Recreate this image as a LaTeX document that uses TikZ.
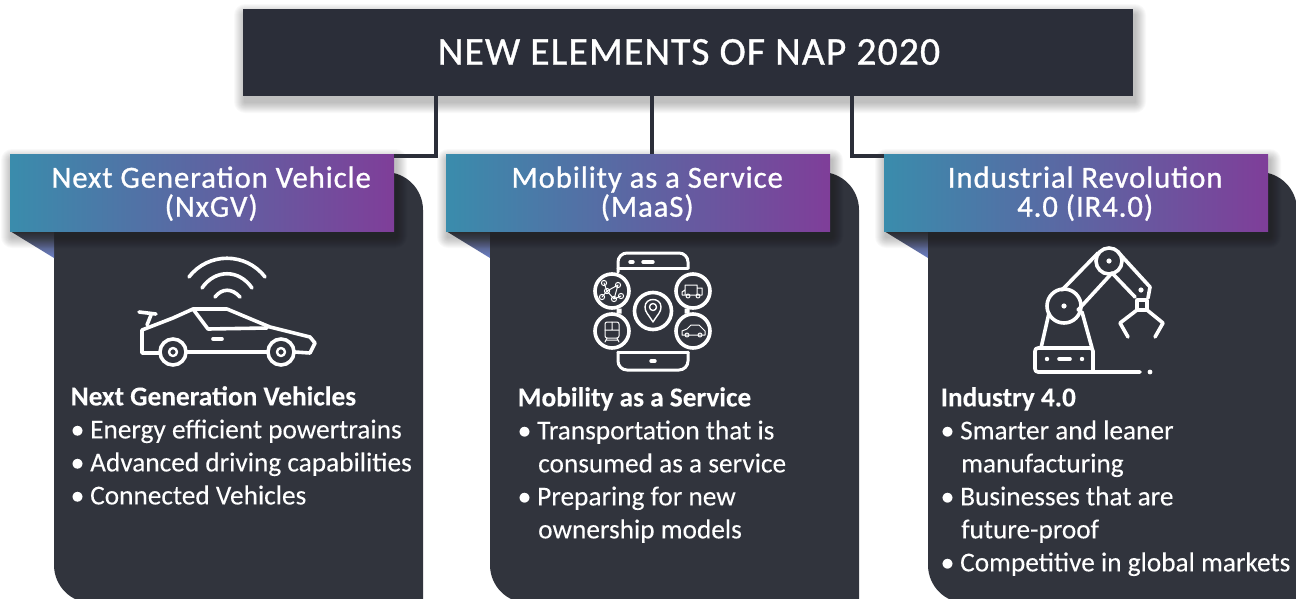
\documentclass[tikz,border=0pt]{standalone}
\usepackage{fontspec}
\setmainfont{Carlito}[FakeBold=0.15]
\newfontfamily\spaced{Carlito}[LetterSpace=3.0,FakeBold=0.9]
\usetikzlibrary{calc}
\definecolor{panel}{HTML}{31343D}
\definecolor{head}{HTML}{2B2E39}
\definecolor{teal}{HTML}{3A8CAC}
\definecolor{plum}{HTML}{7F3E99}
\definecolor{foldblue}{HTML}{6C80C8}
\newcommand{\softbox}[4]{%
  \foreach \d in {1,...,11}
    \fill[black,opacity=.022,rounded corners=\d pt]($(#1,#2)+(2-\d,6-\d)$)rectangle($(#3,#4)+(2+\d,6+\d)$);}
\newcommand{\bul}{\makebox[19.5pt][l]{\textbullet}}
\newcommand{\ind}{\hspace*{20.5pt}}
\tikzset{
  ico/.style={draw=white,line width=3.6pt,line cap=round,line join=round},
  thin ico/.style={draw=white,line width=1pt,line cap=round,line join=round},
  link/.style={draw=head,line width=4pt},
  ribbon/.style={minimum width=384pt,minimum height=77pt,inner sep=0pt,left color=teal,right color=plum,anchor=north west},
  ribtext/.style={text=white,font=\spaced\fontsize{30.7}{29}\selectfont,align=center,xshift=9pt,yshift=-1pt},
  body/.style={text=white,font=\fontsize{27.3}{33}\selectfont,align=left,anchor=north west,inner sep=0pt},
}
\begin{document}
\begin{tikzpicture}[x=1pt,y=-1pt]
  \useasboundingbox(0,0)rectangle(1296,598);
  \fill[white](0,0)rectangle(1296,598);
  \clip(0,0)rectangle(1296,598);
  % panels
  \foreach \x in {54,490,928}
    \fill[panel](\x,172)[rounded corners=38pt]--(\x+369,172)[sharp corners]--(\x+369,603)[rounded corners=38pt]--(\x,603)[sharp corners]--cycle;
  % folds
  \foreach \x in {10,446,884}
    \shade[top color=black!75,bottom color=foldblue](\x,231)--(\x+44,258)--(\x+44,231)--cycle;
  % connectors
  \softbox{243}{9}{1133}{96}
  \softbox{10}{154}{394}{231}
  \softbox{446}{154}{830}{231}
  \softbox{884}{154}{1268}{231}
  \node[fill=head,minimum width=890pt,minimum height=87pt,inner sep=0pt,anchor=north west](title)at(243,9){};
  \node[ribbon](ribA)at(10,154){};
  \node[ribbon](ribB)at(446,154){};
  \node[ribbon](ribC)at(884,154){};
  \coordinate(linkA)at(436,156);
  \coordinate(linkB)at(652,156);
  \coordinate(linkC)at(852,156);
  \draw[link](title.south -| linkA)--(linkA)--(ribA.east |- linkA);
  \draw[link](title.south -| linkB)--(ribB.north -| linkB);
  \draw[link](title.south -| linkC)--(linkC)--(ribC.west |- linkC);
  % labels
  \node[text=white,font=\spaced\fontsize{39.5}{40}\selectfont](titletext)at(689,52){NEW ELEMENTS OF NAP 2020};
  \node[ribtext]at(ribA){Next Generation Vehicle\\(NxGV)};
  \node[ribtext]at(ribB){Mobility as a Service\\(MaaS)};
  \node[ribtext]at(ribC){Industrial Revolution\\4.0 (IR4.0)};
  \node[body](listA)at(70.5,386){\textbf{Next Generation Vehicles}\\\bul Energy efficient powertrains\\\bul Advanced driving capabilities\\\bul Connected Vehicles};
  \node[body](listB)at(517.5,387){\textbf{Mobility as a Service}\\\bul Transportation that is\\\ind consumed as a service\\\bul Preparing for new\\\ind ownership models};
  \node[body](listC)at(940.5,387){\textbf{Industry 4.0}\\\bul Smarter and leaner\\\ind manufacturing\\\bul Businesses that are\\\ind future-proof\\\bul Competitive in global markets};
  % car
  \draw[ico](189,277).. controls (208,252) and (246,252) .. (265,277);
  \draw[ico](202,288).. controls (215,269) and (239,269) .. (252,288);
  \draw[ico](215,297).. controls (222,288) and (232,288) .. (240,297);
  \draw[ico](139,312)--(156,314)(151,315)--(147,325);
  \draw[ico](160,353)--(142,353)--(142,330)--(173,318)--(193,309)--(227,309)--(270,327)--(310,337)--(315,343)--(310,353)--(295,352);
  \draw[ico](186,352)--(268,352);
  \draw[ico](193,309)--(208,329)--(267,328);
  \draw[ico](213,339)--(222,339);
  \draw[ico](173,352)circle(13)(281,352)circle(13);
  \draw[ico,line width=2.4pt](173,352)circle(4)(281,352)circle(4);
  % phone
  \draw[ico,line width=3pt,rounded corners=9pt](618,272)--(618,253)--(688,253)--(688,268);
  \draw[ico,line width=3pt](618,268)--(688,268);
  \draw[ico,line width=3pt,rounded corners=9pt](618,352)--(618,370)--(688,370)--(688,352);
  \draw[ico,line width=3pt](618,352)--(688,352);
  \draw[ico,line width=3.4pt](630,262)--(633,262)(643,262)--(653,262)(651,361)--(655,361);
  \fill[white](616.5,308.5)rectangle(621.5,313.5)(684.5,308.5)rectangle(689.5,313.5);
  \foreach \cx/\cy in {612/291,612/331,693/291,693/331}
    \draw[ico,fill=panel](\cx,\cy)circle(17);
  \draw[ico,fill=panel](653,311)circle(18.5);
  \draw[thin ico,line width=1.4pt](653,322).. controls (648,314) and (645,312) .. (645,307).. controls (645,297) and (661,297) .. (661,307).. controls (661,312) and (658,314) .. (653,322)--cycle;
  \draw[thin ico,line width=1.4pt](653,307)circle(3.5);
  % small icons in the phone
  \foreach \cx/\cy in {607/291,618/285,614/299,604/283,621/296,602/297}
    \draw[thin ico](\cx,\cy)circle(2.6);
  \draw[thin ico](607,291)--(618,285)--(614,299)--(607,291)(604,283)--(607,291)(621,296)--(614,299)(602,297)--(607,291);
  \draw[thin ico](685,285)rectangle(697,295)(697,288)--(702,288)--(702,295)--(697,295)(685,290)--(682,292)--(682,295)--(685,295);
  \draw[thin ico](688,296)circle(2)(698,296)circle(2);
  \draw[thin ico,rounded corners=2pt](605,322)rectangle(619,338);
  \draw[thin ico](605,330)--(619,330)(612,322)--(612,330)(607,338)--(605,342)(617,338)--(619,342)(606,340)--(618,340);
  \draw[thin ico](682,335)--(682,331)--(687,329)--(691,325)--(699,325)--(703,329)--(705,331)--(705,335)--(682,335);
  \draw[thin ico](687,335)circle(2)(700,335)circle(2);
  % robot
  \draw[ico,rounded corners=3pt](1093,372)--(1093,348)--(1035,348)--(1035,372)--(1140,372);
  \fill[white](1150,372)circle(2.4)(1047,359)circle(2.2)(1082,359)circle(2.2);
  \draw[ico](1059,359)--(1070,359);
  \draw[ico](1041,348)--(1049,313)(1092,348)--(1082,312);
  \draw[ico](1064,306)circle(17);
  \draw[ico](1062,290)--(1098,253)(1078,310)--(1112,273);
  \draw[ico](1109,261)circle(13);
  \fill[white](1064,306)circle(2.6)(1109,261)circle(2.6)(1141,290)circle(2.6);
  \draw[ico](1118,252)--(1150,287)--(1148,298)(1112,273)--(1135,297);
  \draw[ico](1137,300)rectangle(1147,310);
  \draw[ico](1137,310)--(1120,323)--(1128,337)(1147,310)--(1163,323)--(1155,337);
\end{tikzpicture}
\end{document}
